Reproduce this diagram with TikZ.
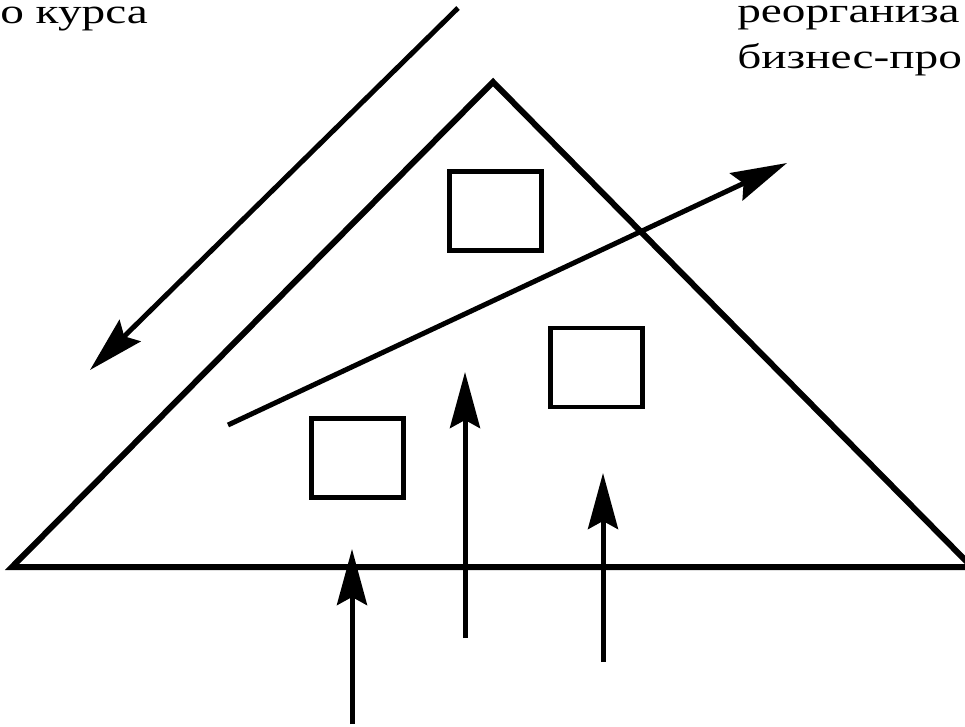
\documentclass[tikz,border=0pt]{standalone}
\usepackage{fontspec}
\setmainfont{Liberation Serif}
\usetikzlibrary{arrows.meta}
\tikzset{
  edge/.style={line width=6pt, line join=miter},
  arr/.style={line width=5pt, -{Stealth[length=56pt, width=30pt, inset=8pt]}},
  box/.style={draw, line width=4.5pt, minimum width=92pt, minimum height=79pt, inner sep=0pt},
  lbl/.style={font=\fontsize{35pt}{40pt}\selectfont, inner sep=0pt, anchor=base west, xscale=1.35}
}
\begin{document}
\begin{tikzpicture}[x=1pt,y=-1pt]
\useasboundingbox (0,0) rectangle (965,726);
\clip (0,0) rectangle (965,726);
% texts
\node[lbl] (t1) at (0,23) {о курса};
\node[lbl] (t2) at (737,22) {реорганиза};
\node[lbl] (t3) at (737,68) {бизнес-про};
% triangle
\coordinate (apex) at (493,82);
\coordinate (bl) at (12,567);
\coordinate (br) at (972,567);
\draw[edge] (bl) -- (apex) -- (br) -- cycle;
% squares
\node[box] (s1) at (495.5,211) {};
\node[box] (s2) at (596.5,367.5) {};
\node[box] (s3) at (357.5,458) {};
% arrows
\coordinate (o1) at (458,8);
\coordinate (o2) at (90,370);
\draw[arr] (o1) -- (o2);
\coordinate (d1) at (228,425);
\coordinate (d2) at (787,163);
\draw[arr] (d1) -- (d2);
\coordinate (v1a) at (465,638);
\coordinate (v1b) at (465,372);
\draw[arr] (v1a) -- (v1b);
\coordinate (v2a) at (603,662);
\coordinate (v2b) at (603,473);
\draw[arr] (v2a) -- (v2b);
\coordinate (v3a) at (352,724);
\coordinate (v3b) at (352,549);
\draw[arr] (v3a) -- (v3b);
\end{tikzpicture}
\end{document}
